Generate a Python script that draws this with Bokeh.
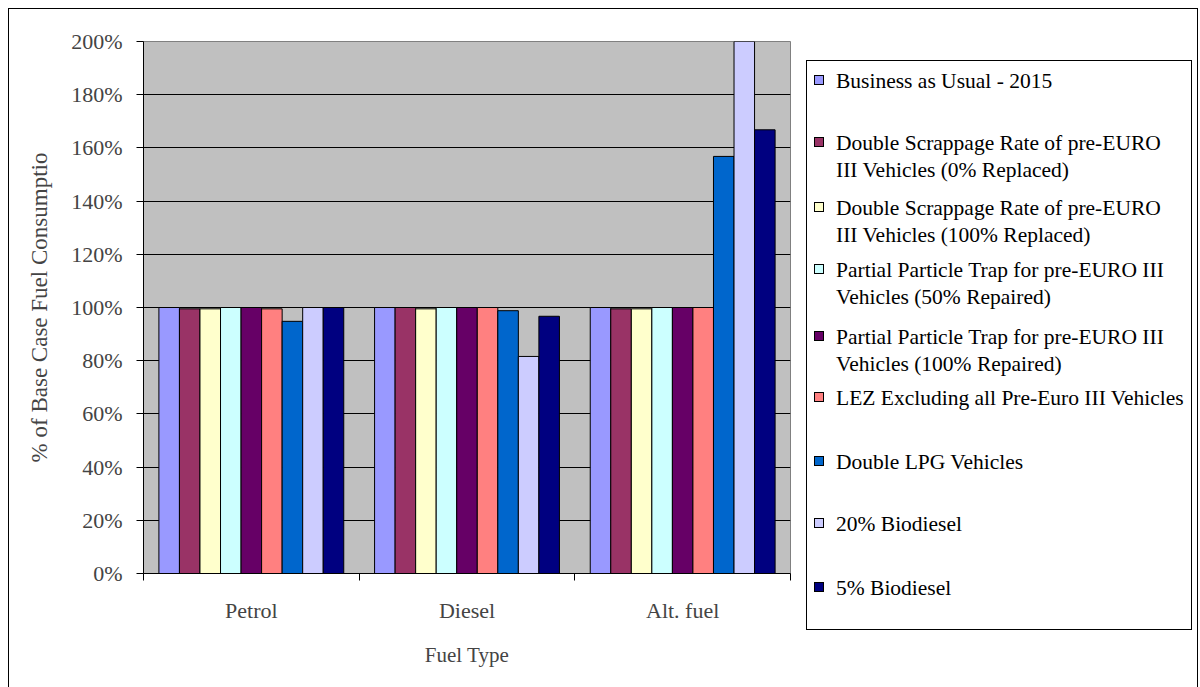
from bokeh.plotting import figure
from bokeh.models import ColumnDataSource, FixedTicker, Range1d, Div
from bokeh.layouts import row
from bokeh.embed import file_html
from bokeh.resources import INLINE

# ---------------- data ----------------
categories = ["Petrol", "Diesel", "Alt. fuel"]
legend_lines = [
    ["Business as Usual - 2015"],
    ["Double Scrappage Rate of pre-EURO", "III Vehicles (0% Replaced)"],
    ["Double Scrappage Rate of pre-EURO", "III Vehicles (100% Replaced)"],
    ["Partial Particle Trap for pre-EURO III", "Vehicles (50% Repaired)"],
    ["Partial Particle Trap for pre-EURO III", "Vehicles (100% Repaired)"],
    ["LEZ Excluding all Pre-Euro III Vehicles"],
    ["Double LPG Vehicles"],
    ["20% Biodiesel"],
    ["5% Biodiesel"],
]
bau = [100.0, 100.0, 100.0]
ds_0 = [99.5, 100.0, 99.5]
ds_100 = [99.5, 99.5, 99.5]
ppt_50 = [100.0, 100.0, 100.0]
ppt_100 = [100.0, 100.0, 100.0]
lez = [99.5, 100.0, 100.0]
lpg = [94.8, 98.8, 156.8]
bio_20 = [100.0, 81.6, 230.0]
bio_5 = [100.0, 96.7, 166.8]
series_values = [bau, ds_0, ds_100, ppt_50, ppt_100, lez, lpg, bio_20, bio_5]
colors = ["#9999FF", "#993366", "#FFFFCC", "#CCFFFF", "#660066",
          "#FF8080", "#0066CC", "#CCCCFF", "#000080"]
y_ticks = [0, 20, 40, 60, 80, 100, 120, 140, 160, 180, 200]

FONT = "Liberation Serif"
FS_TICK = "22px"
FS_YLAB = "23px"
FS_XLAB = "21px"
FS_LEG = "21.5px"

# page geometry (pixels)
OX, OY = 9, 9            # content origin inside outer border
SPLIT = 806              # where the legend panel starts
RIGHT = 1197
H = 687
L, R, T, B = 143, 790, 41, 573

p = figure(width=SPLIT - OX, height=H - OY, output_backend="svg",
           toolbar_location=None,
           x_range=Range1d(0, 3), y_range=Range1d(0, 200),
           min_border_left=L - OX, min_border_right=SPLIT - R,
           min_border_top=T - OY, min_border_bottom=H - B)
p.background_fill_color = "#C0C0C0"
p.border_fill_color = "white"
p.outline_line_color = "#808080"
p.outline_line_width = 1

n = len(series_values)
bw = 1.0 / (n + 1.5)
for j, (vals, col) in enumerate(zip(series_values, colors)):
    xs = [i + 0.5 + (j - (n - 1) / 2) * bw for i in range(len(categories))]
    src = ColumnDataSource(dict(x=xs, top=vals))
    p.vbar(x="x", top="top", bottom=0, width=bw, source=src,
           fill_color=col, line_color="black", line_width=1)

p.xgrid.visible = False
p.ygrid.ticker = FixedTicker(ticks=y_ticks)
p.ygrid.grid_line_color = "black"
p.ygrid.grid_line_width = 1

ya = p.yaxis[0]
ya.ticker = FixedTicker(ticks=y_ticks)
ya.major_label_overrides = {v: f"{v}%" for v in y_ticks}
ya.axis_label = "% of Base Case Fuel Consumptio"
ya.axis_label_text_font = FONT
ya.axis_label_text_font_size = FS_YLAB
ya.axis_label_text_font_style = "normal"
ya.axis_label_standoff = 16
ya.major_label_text_font = FONT
ya.major_label_text_font_size = FS_TICK
ya.major_label_standoff = 14
ya.major_tick_out = 7
ya.major_tick_in = 0
ya.minor_tick_out = 0
ya.minor_tick_in = 0
ya.axis_line_color = "black"
ya.major_tick_line_color = "black"

xa = p.xaxis[0]
xa.ticker = FixedTicker(ticks=[0.5, 1.5, 2.5], minor_ticks=[0, 1, 2, 3])
xa.major_label_overrides = {i + 0.5: c for i, c in enumerate(categories)}
xa.axis_label = "Fuel Type"
xa.axis_label_text_font = FONT
xa.axis_label_text_font_size = FS_XLAB
xa.axis_label_text_font_style = "normal"
xa.axis_label_standoff = 17
xa.major_label_text_font = FONT
xa.major_label_text_font_size = FS_TICK
xa.major_label_standoff = 17
xa.major_tick_out = 0
xa.major_tick_in = 0
xa.minor_tick_out = 7
xa.minor_tick_in = 0
xa.axis_line_color = "black"
xa.minor_tick_line_color = "black"

# ---------------- legend panel (HTML) ----------------
FF = f"{FONT}, Times New Roman, serif"
item_y = [[81], [143, 170], [208, 235], [270, 297], [337, 364],
          [398], [462], [524], [588]]
parts = [
    f'<div style="position:relative;width:{RIGHT - SPLIT}px;height:{H - OY}px;'
    f'font-family:{FF};font-size:{FS_LEG};color:black;">',
    f'<div style="position:absolute;left:0px;top:{60 - OY}px;'
    f'width:{1194 - 806 - 2}px;height:{632 - 60 - 2}px;'
    f'border:1px solid black;background:white;"></div>',
]
for lines, ys, col in zip(legend_lines, item_y, colors):
    y0 = ys[0] - OY
    parts.append(
        f'<div style="position:absolute;left:8px;top:{y0 - 6}px;'
        f'width:10px;height:10px;background:{col};'
        f'border:1px solid black;"></div>')
    for txt, yy in zip(lines, ys):
        parts.append(
            f'<div style="position:absolute;left:30px;top:{yy - OY - 14}px;'
            f'height:28px;line-height:28px;white-space:nowrap;'
            f'font-family:{FF};font-size:{FS_LEG};">{txt}</div>')
parts.append('</div>')
legend = Div(text="".join(parts), width=RIGHT - SPLIT, height=H - OY,
             margin=0,
             styles={"font-family": FF, "font-size": FS_LEG})

layout = row(p, legend, margin=(8, 0, 0, 8),
             styles={"border": "1px solid black"})

open("out.html", "w").write(file_html(layout, INLINE))
